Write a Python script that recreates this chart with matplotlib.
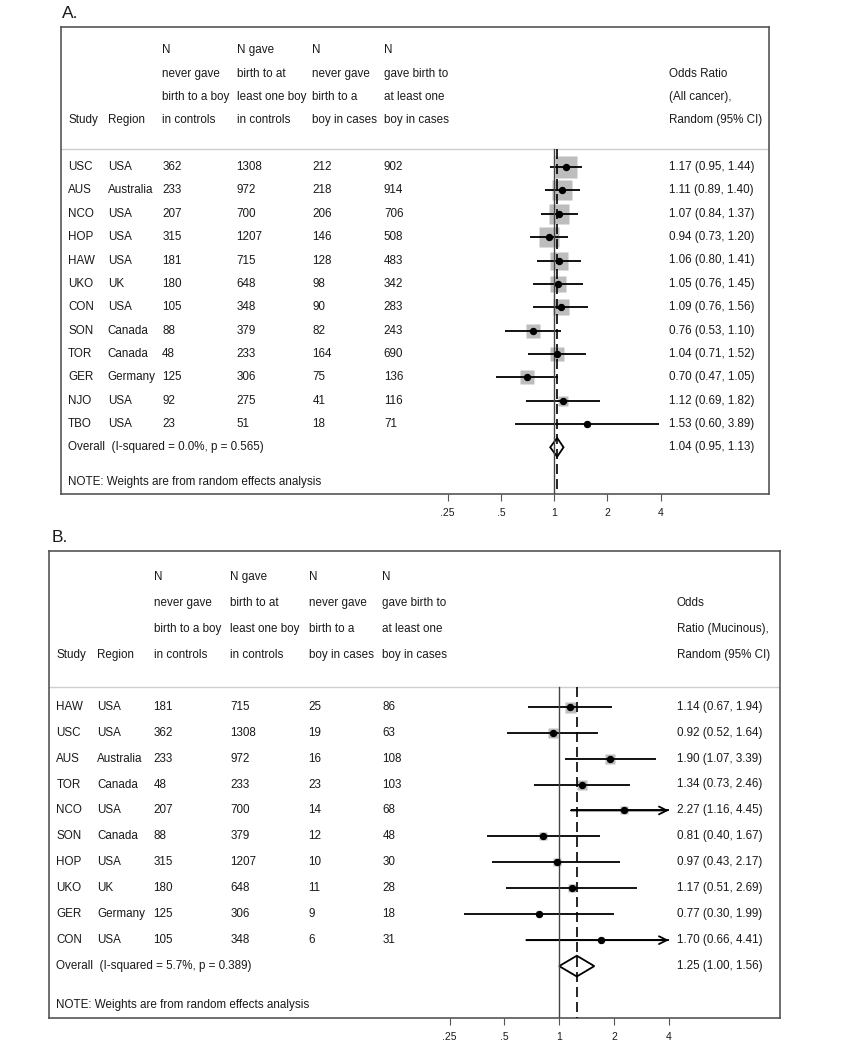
import numpy as np
import matplotlib.pyplot as plt
from matplotlib.patches import Polygon

plt.rcParams['font.family'] = ['Liberation Sans', 'DejaVu Sans']

# Panel A: todos los canceres
studies_a = ['USC', 'AUS', 'NCO', 'HOP', 'HAW', 'UKO', 'CON', 'SON', 'TOR', 'GER', 'NJO', 'TBO']
regions_a = ['USA', 'Australia', 'USA', 'USA', 'USA', 'UK', 'USA', 'Canada', 'Canada', 'Germany', 'USA', 'USA']
never_ctrl_a = [362, 233, 207, 315, 181, 180, 105, 88, 48, 125, 92, 23]
gave_ctrl_a = [1308, 972, 700, 1207, 715, 648, 348, 379, 233, 306, 275, 51]
never_case_a = [212, 218, 206, 146, 128, 98, 90, 82, 164, 75, 41, 18]
gave_case_a = [902, 914, 706, 508, 483, 342, 283, 243, 690, 136, 116, 71]
or_a = [1.17, 1.11, 1.07, 0.94, 1.06, 1.05, 1.09, 0.76, 1.04, 0.70, 1.12, 1.53]
lo_a = [0.95, 0.89, 0.84, 0.73, 0.80, 0.76, 0.76, 0.53, 0.71, 0.47, 0.69, 0.60]
hi_a = [1.44, 1.40, 1.37, 1.20, 1.41, 1.45, 1.56, 1.10, 1.52, 1.05, 1.82, 3.89]
weight_a = [15.0, 13.6, 12.2, 12.1, 9.6, 8.4, 7.4, 6.3, 5.4, 5.4, 3.7, 0.9]   # % (estimado)
overall_a = [1.04, 0.95, 1.13]
overall_text_a = 'Overall  (I-squared = 0.0%, p = 0.565)'
or_header_a = ['Odds Ratio', '(All cancer),', 'Random (95% CI)']

# Panel B: mucinosos
studies_b = ['HAW', 'USC', 'AUS', 'TOR', 'NCO', 'SON', 'HOP', 'UKO', 'GER', 'CON']
regions_b = ['USA', 'USA', 'Australia', 'Canada', 'USA', 'Canada', 'USA', 'UK', 'Germany', 'USA']
never_ctrl_b = [181, 362, 233, 48, 207, 88, 315, 180, 125, 105]
gave_ctrl_b = [715, 1308, 972, 233, 700, 379, 1207, 648, 306, 348]
never_case_b = [25, 19, 16, 23, 14, 12, 10, 11, 9, 6]
gave_case_b = [86, 63, 108, 103, 68, 48, 30, 28, 18, 31]
or_b = [1.14, 0.92, 1.90, 1.34, 2.27, 0.81, 0.97, 1.17, 0.77, 1.70]
lo_b = [0.67, 0.52, 1.07, 0.73, 1.16, 0.40, 0.43, 0.51, 0.30, 0.66]
hi_b = [1.94, 1.64, 3.39, 2.46, 4.45, 1.67, 2.17, 2.69, 1.99, 4.41]
weight_b = [16.0, 14.3, 13.6, 12.4, 10.3, 9.1, 7.2, 6.8, 5.3, 5.0]   # % (estimado)
overall_b = [1.25, 1.00, 1.56]
overall_text_b = 'Overall  (I-squared = 5.7%, p = 0.389)'
or_header_b = ['Odds', 'Ratio (Mucinous),', 'Random (95% CI)']

# Encabezados de columnas (4 lineas)
col_headers = [
    ['', '', 'N', 'N gave', 'N', 'N'],
    ['', '', 'never gave', 'birth to at', 'never gave', 'gave birth to'],
    ['', '', 'birth to a boy', 'least one boy', 'birth to a', 'at least one'],
    ['Study', 'Region', 'in controls', 'in controls', 'boy in cases', 'boy in cases'],
]
xticks = [0.25, 0.5, 1, 2, 4]
xtick_labels = ['.25', '.5', '1', '2', '4']

col_x = [0.010, 0.066, 0.143, 0.248, 0.355, 0.456]  # fraccion del eje
or_x = 0.859
fs_txt = 8.4
txt_col = '#1a1a1a'
box_col = '#555555'


def draw_panel(rect, label, label_xy, studies, regions, c1, c2, c3, c4, ors, los, his,
               weights, overall, overall_text, or_header, xlim_log2, box_px):
    ax = fig.add_axes(rect)
    n = len(studies)
    ax.set_xscale('log', base=2)
    ax.set_xlim(2 ** xlim_log2[0], 2 ** xlim_log2[1])
    ax.set_ylim(n + 2, -6)
    tr = ax.get_yaxis_transform()  # x en fraccion, y en datos
    sep = -0.77

    # encabezado
    for k, row in enumerate(col_headers):
        for j, t in enumerate(row):
            ax.text(col_x[j], -5 + k, t, transform=tr, fontsize=fs_txt, color=txt_col, va='center')
    for k, t in enumerate(or_header):
        ax.text(or_x, -4 + k, t, transform=tr, fontsize=fs_txt, color=txt_col, va='center')
    ax.axhline(sep, color='#cfcfcf', lw=1.0)

    # filas de estudios
    wmax = max(weights)
    for i in range(n):
        vals = [studies[i], regions[i], str(c1[i]), str(c2[i]), str(c3[i]), str(c4[i])]
        for j, t in enumerate(vals):
            ax.text(col_x[j], i, t, transform=tr, fontsize=fs_txt, color=txt_col, va='center')
        ax.text(or_x, i, '%.2f (%.2f, %.2f)' % (ors[i], los[i], his[i]), transform=tr,
                fontsize=fs_txt, color=txt_col, va='center')
        side = box_px * np.sqrt(weights[i] / wmax) * 0.72
        ax.plot(ors[i], i, 's', ms=side, color='#bdbdbd', mec='none', zorder=2)
        top = min(his[i], xticks[-1])
        ax.plot([los[i], top], [i, i], color='black', lw=1.3, zorder=3, solid_capstyle='butt')
        if his[i] > xticks[-1]:
            ax.annotate('', xy=(top, i), xytext=(los[i], i),
                        arrowprops=dict(arrowstyle='->', lw=1.3, color='black',
                                        shrinkA=0, shrinkB=0, mutation_scale=14), zorder=3)
        ax.plot(ors[i], i, 'o', ms=4.3, color='black', zorder=5)

    # efecto global
    est, olo, ohi = overall
    h = 0.4
    dia = Polygon([(olo, n), (est, n - h), (ohi, n), (est, n + h)], closed=True,
                  facecolor='white', edgecolor='black', lw=1.3, zorder=3)
    ax.add_patch(dia)
    ax.text(col_x[0], n, overall_text, transform=tr, fontsize=fs_txt, color=txt_col, va='center')
    ax.text(or_x, n, '%.2f (%.2f, %.2f)' % (est, olo, ohi), transform=tr,
            fontsize=fs_txt, color=txt_col, va='center')
    ax.text(col_x[0], n + 1.5, 'NOTE: Weights are from random effects analysis', transform=tr,
            fontsize=fs_txt, color=txt_col, va='center')

    # lineas de referencia
    ax.plot([1, 1], [sep, n + 2], color='#444444', lw=1.0, zorder=4)
    ax.plot([est, est], [sep, n + 2], color='black', lw=1.2, ls=(0, (6, 3)), zorder=4)

    # ejes
    for s in ax.spines.values():
        s.set_color(box_col)
        s.set_linewidth(1.2)
    ax.set_yticks([])
    ax.set_xticks(xticks)
    ax.set_xticklabels(xtick_labels)
    ax.xaxis.set_minor_locator(plt.NullLocator())
    ax.tick_params(axis='x', direction='out', length=5, width=0.8, color=box_col,
                   labelsize=7.5, labelcolor=txt_col, pad=5)

    fig.text(label_xy[0] / 844, 1 - label_xy[1] / 1050, label, fontsize=12.5,
             color=txt_col, va='center', ha='left')
    return ax


fig = plt.figure(figsize=(8.44, 10.5), dpi=100)

draw_panel([61 / 844, 1 - 494 / 1050, 708 / 844, 467 / 1050], 'A.', (62, 14),
           studies_a, regions_a, never_ctrl_a, gave_ctrl_a, never_case_a, gave_case_a,
           or_a, lo_a, hi_a, weight_a, overall_a, overall_text_a, or_header_a,
           (-9.25, 4.03), 22)

draw_panel([49 / 844, 1 - 1018 / 1050, 731 / 844, 467 / 1050], 'B.', (52, 538),
           studies_b, regions_b, never_ctrl_b, gave_ctrl_b, never_case_b, gave_case_b,
           or_b, lo_b, hi_b, weight_b, overall_b, overall_text_b, or_header_b,
           (-9.31, 4.03), 11)

fig.savefig('out.png', dpi=100)
